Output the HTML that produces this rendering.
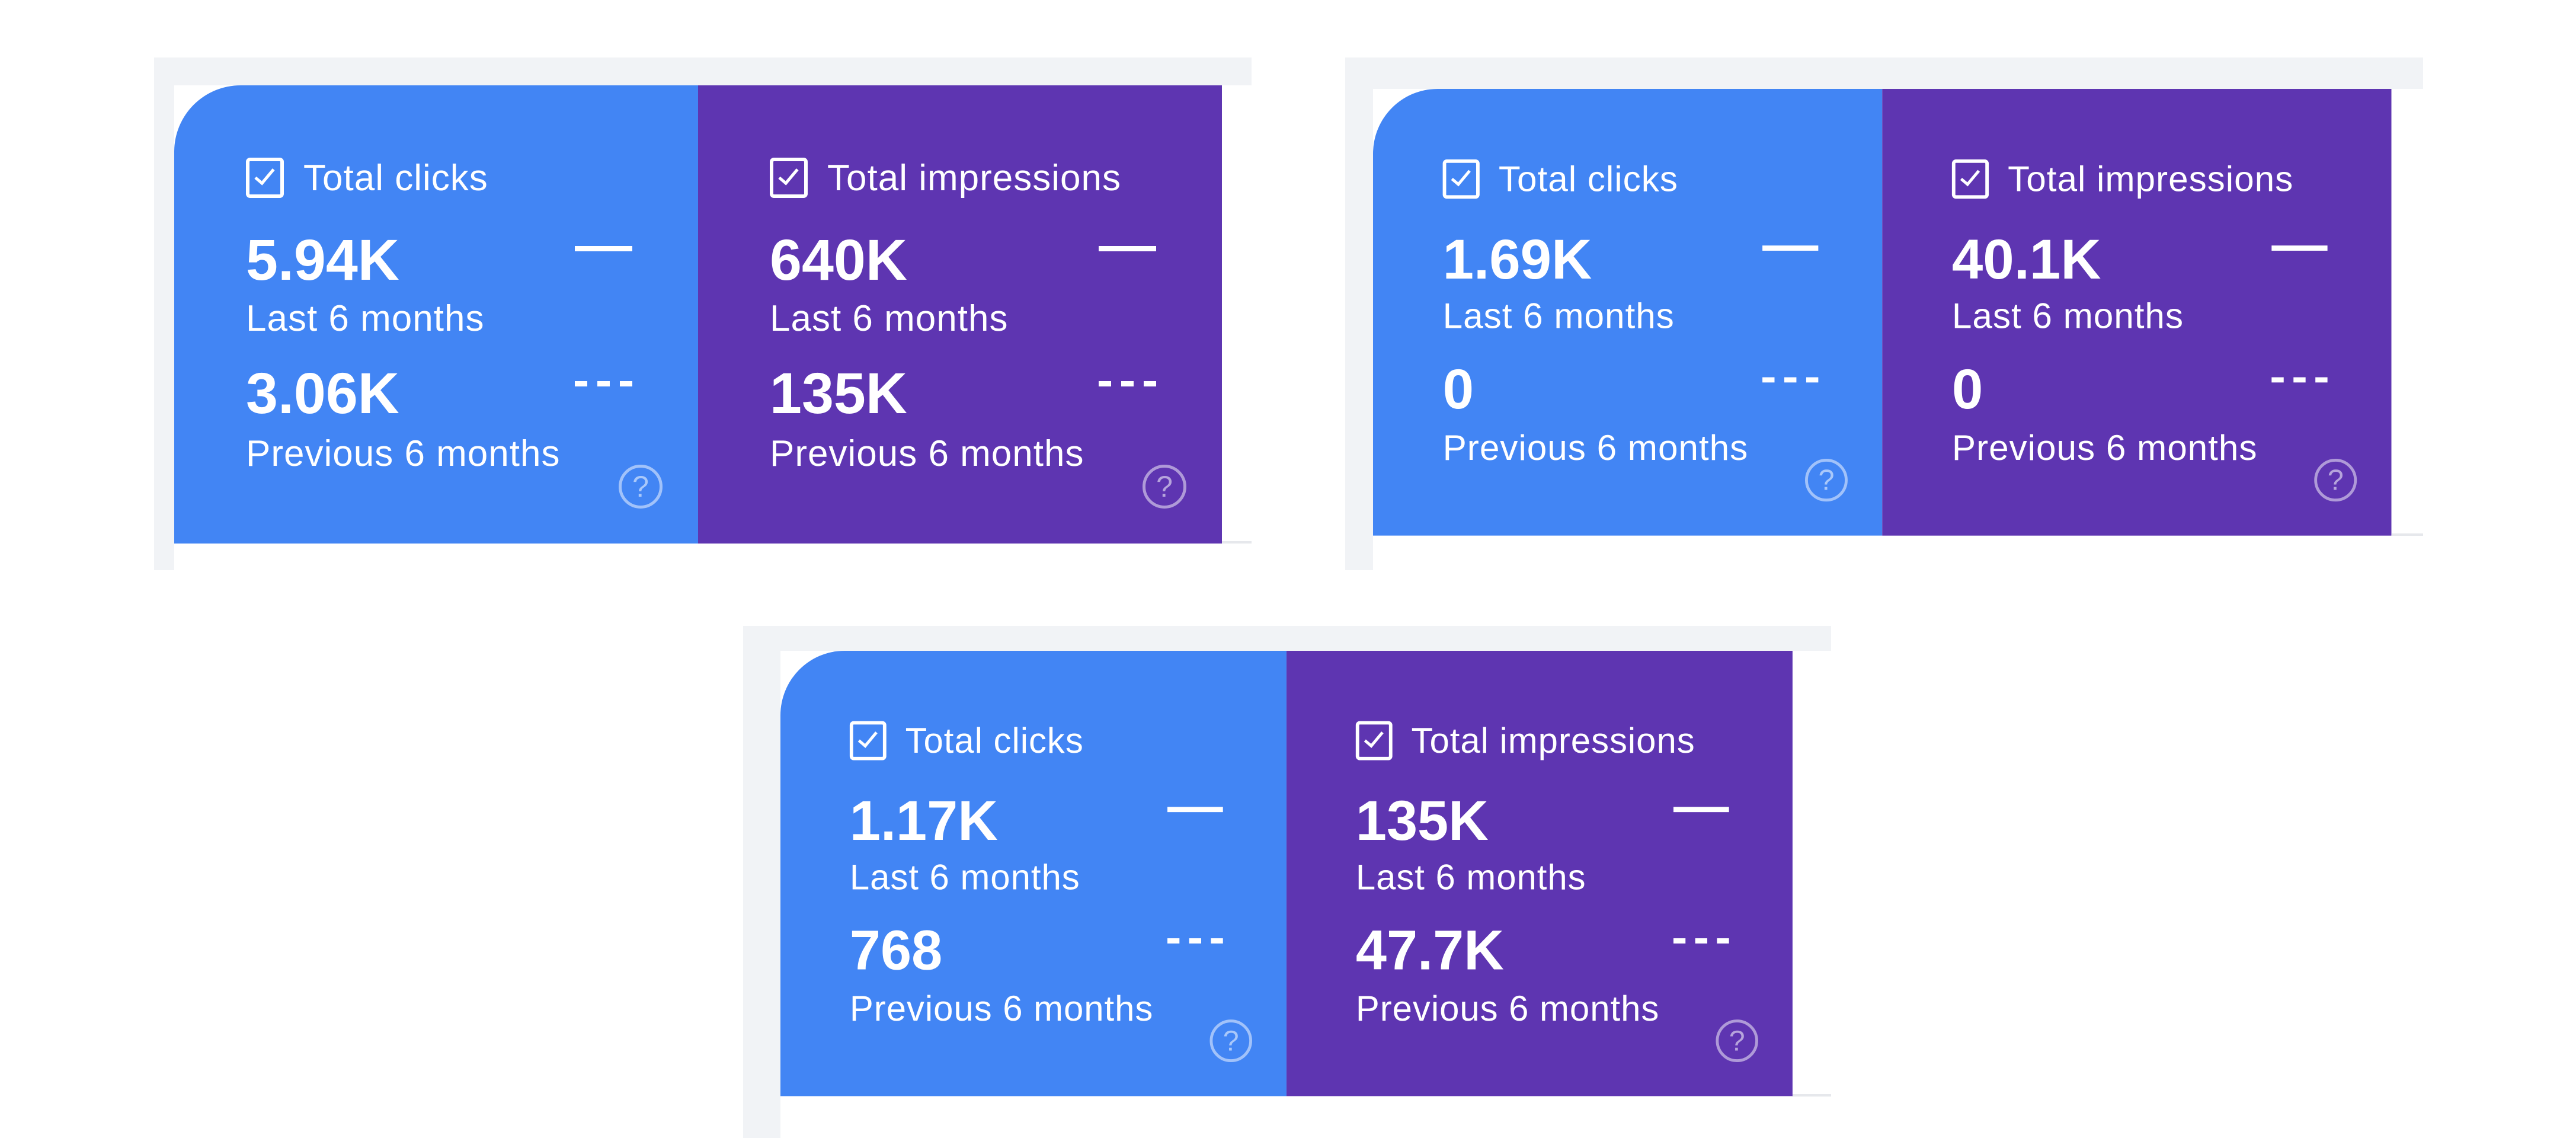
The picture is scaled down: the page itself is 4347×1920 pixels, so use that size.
<!DOCTYPE html>
<html><head><meta charset="utf-8"><style>
html,body{margin:0;padding:0;background:#fff;}
body{width:4347px;height:1920px;position:relative;overflow:hidden;font-family:"Liberation Sans",sans-serif;}
.frame{position:absolute;background:#f1f3f6;}
.white{position:absolute;background:#fff;}
.card{position:absolute;width:1768px;height:773px;transform-origin:0 0;}
.half{position:absolute;top:0;height:773px;width:884px;}
.b{left:0;background:#4285f4;border-top-left-radius:112px;}
.p{left:884px;background:#5e35b1;}
.t{position:absolute;color:#fff;line-height:1;white-space:nowrap;}
.title{left:218px;top:126px;font-size:62px;letter-spacing:1px;}
.v1{left:121px;top:246px;font-size:97px;font-weight:bold;}
.l1{left:121px;top:363px;font-size:62px;letter-spacing:1px;}
.v2{left:121px;top:471px;font-size:97px;font-weight:bold;}
.l2{left:121px;top:591px;font-size:62px;letter-spacing:1px;}
.cb{position:absolute;left:121px;top:122px;width:52px;height:56px;border:6px solid #fff;border-radius:7px;}
.cb:after{content:"";position:absolute;left:17px;top:6px;width:12px;height:28px;border-right:5px solid #fff;border-bottom:5px solid #fff;transform:rotate(40deg);}
.solid{position:absolute;left:676px;top:271px;width:97px;height:9px;background:#fff;}
.dash{position:absolute;top:499px;height:9px;width:21px;background:#fff;}
.help{position:absolute;left:750px;top:640px;width:64px;height:64px;border:5px solid rgba(255,255,255,0.5);border-radius:50%;color:rgba(255,255,255,0.55);font-size:50px;line-height:64px;text-align:center;}
.line{position:absolute;background:#e6e8ec;height:4px;}
</style></head><body>

<!-- panel 1 -->
<div class="frame" style="left:260px;top:97px;width:1852px;height:865px;"></div>
<div class="white" style="left:294px;top:144px;width:1818px;height:818px;"></div>
<div class="line" style="left:2062px;top:913px;width:50px;"></div>
<div class="card" style="left:294px;top:144px;">
 <div class="half b">
  <div class="cb"></div><div class="t title">Total clicks</div>
  <div class="t v1">5.94K</div><div class="t l1">Last 6 months</div>
  <div class="t v2">3.06K</div><div class="t l2">Previous 6 months</div>
  <div class="solid"></div><div class="dash" style="left:676px"></div><div class="dash" style="left:714px"></div><div class="dash" style="left:752px"></div>
  <div class="help">?</div>
 </div>
 <div class="half p">
  <div class="cb"></div><div class="t title">Total impressions</div>
  <div class="t v1">640K</div><div class="t l1">Last 6 months</div>
  <div class="t v2">135K</div><div class="t l2">Previous 6 months</div>
  <div class="solid"></div><div class="dash" style="left:676px"></div><div class="dash" style="left:714px"></div><div class="dash" style="left:752px"></div>
  <div class="help">?</div>
 </div>
</div>

<!-- panel 2 -->
<div class="frame" style="left:2270px;top:97px;width:1819px;height:865px;"></div>
<div class="white" style="left:2317px;top:150px;width:1772px;height:812px;"></div>
<div class="line" style="left:4036px;top:900px;width:53px;"></div>
<div class="card" style="left:2317px;top:150px;transform:scale(0.972,0.975);">
 <div class="half b">
  <div class="cb"></div><div class="t title">Total clicks</div>
  <div class="t v1">1.69K</div><div class="t l1">Last 6 months</div>
  <div class="t v2">0</div><div class="t l2">Previous 6 months</div>
  <div class="solid"></div><div class="dash" style="left:676px"></div><div class="dash" style="left:714px"></div><div class="dash" style="left:752px"></div>
  <div class="help">?</div>
 </div>
 <div class="half p">
  <div class="cb"></div><div class="t title">Total impressions</div>
  <div class="t v1">40.1K</div><div class="t l1">Last 6 months</div>
  <div class="t v2">0</div><div class="t l2">Previous 6 months</div>
  <div class="solid"></div><div class="dash" style="left:676px"></div><div class="dash" style="left:714px"></div><div class="dash" style="left:752px"></div>
  <div class="help">?</div>
 </div>
</div>

<!-- panel 3 -->
<div class="frame" style="left:1254px;top:1056px;width:1836px;height:864px;"></div>
<div class="white" style="left:1317px;top:1098px;width:1773px;height:822px;"></div>
<div class="line" style="left:3024px;top:1846px;width:66px;"></div>
<div class="card" style="left:1317px;top:1098px;transform:scale(0.966,0.972);">
 <div class="half b">
  <div class="cb"></div><div class="t title">Total clicks</div>
  <div class="t v1">1.17K</div><div class="t l1">Last 6 months</div>
  <div class="t v2">768</div><div class="t l2">Previous 6 months</div>
  <div class="solid"></div><div class="dash" style="left:676px"></div><div class="dash" style="left:714px"></div><div class="dash" style="left:752px"></div>
  <div class="help">?</div>
 </div>
 <div class="half p">
  <div class="cb"></div><div class="t title">Total impressions</div>
  <div class="t v1">135K</div><div class="t l1">Last 6 months</div>
  <div class="t v2">47.7K</div><div class="t l2">Previous 6 months</div>
  <div class="solid"></div><div class="dash" style="left:676px"></div><div class="dash" style="left:714px"></div><div class="dash" style="left:752px"></div>
  <div class="help">?</div>
 </div>
</div>

</body></html>
